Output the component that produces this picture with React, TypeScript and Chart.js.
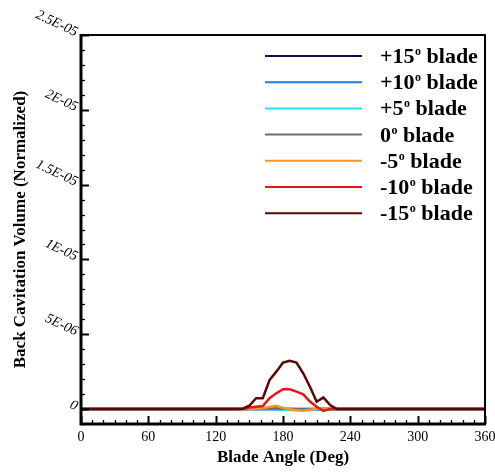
import React, { useEffect, useRef } from "react";
import { Chart, registerables } from "chart.js";

Chart.register(...registerables);

// Blade angle (deg)
const angles = [
  0, 6, 12, 18, 24, 30, 36, 42, 48, 54, 60, 66, 72, 78, 84, 90, 96, 102, 108, 114,
  120, 126, 132, 138, 144, 150, 156, 162, 168, 174, 180, 186, 192, 198, 204, 210,
  216, 222, 228, 234, 240, 246, 252, 258, 264, 270, 276, 282, 288, 294, 300, 306,
  312, 318, 324, 330, 336, 342, 348, 354, 360,
];

// Back cavitation volume, in units of 1E-06
const plus15 = [
  0, 0, 0, 0, 0, 0, 0, 0, 0, 0, 0, 0, 0, 0, 0, 0, 0, 0, 0, 0, 0, 0, 0, 0,
  0, 0, 0, 0, 0, 0, 0, 0, 0, 0, 0, 0, 0, 0, 0,
  0, 0, 0, 0, 0, 0, 0, 0, 0, 0, 0, 0, 0, 0, 0, 0, 0, 0, 0, 0, 0, 0,
];
const plus10 = [
  0, 0, 0, 0, 0, 0, 0, 0, 0, 0, 0, 0, 0, 0, 0, 0, 0, 0, 0, 0, 0, 0, 0, 0,
  0, 0, 0, 0, 0, -0.02, -0.04, -0.05, -0.05, -0.05, -0.04, -0.03, 0, 0, 0,
  0, 0, 0, 0, 0, 0, 0, 0, 0, 0, 0, 0, 0, 0, 0, 0, 0, 0, 0, 0, 0, 0,
];
const plus5 = [
  0, 0, 0, 0, 0, 0, 0, 0, 0, 0, 0, 0, 0, 0, 0, 0, 0, 0, 0, 0, 0, 0, 0, 0,
  0, 0, 0, 0.01, 0.02, -0.02, -0.05, -0.06, -0.06, -0.06, -0.05, -0.04, -0.02, 0, 0,
  0, 0, 0, 0, 0, 0, 0, 0, 0, 0, 0, 0, 0, 0, 0, 0, 0, 0, 0, 0, 0, 0,
];
const zero = [
  0, 0, 0, 0, 0, 0, 0, 0, 0, 0, 0, 0, 0, 0, 0, 0, 0, 0, 0, 0, 0, 0, 0, 0,
  0, 0, 0, 0.02, 0.04, 0.05, 0.03, 0.01, -0.02, -0.03, -0.02, 0, 0, 0, 0,
  0, 0, 0, 0, 0, 0, 0, 0, 0, 0, 0, 0, 0, 0, 0, 0, 0, 0, 0, 0, 0, 0,
];
const minus5 = [
  0, 0, 0, 0, 0, 0, 0, 0, 0, 0, 0, 0, 0, 0, 0, 0, 0, 0, 0, 0, 0, 0, 0, 0,
  0, 0, 0.02, 0.05, 0.15, 0.22, 0.08, -0.02, -0.08, -0.12, -0.05, 0.02, 0.02, 0, 0,
  0, 0, 0, 0, 0, 0, 0, 0, 0, 0, 0, 0, 0, 0, 0, 0, 0, 0, 0, 0, 0, 0,
];
const minus10 = [
  0, 0, 0, 0, 0, 0, 0, 0, 0, 0, 0, 0, 0, 0, 0, 0, 0, 0, 0, 0, 0, 0, 0, 0,
  0, 0.1, 0.15, 0.2, 0.72, 1.05, 1.32, 1.32, 1.16, 0.98, 0.5, 0.15, -0.12, 0, 0,
  0, 0, 0, 0, 0, 0, 0, 0, 0, 0, 0, 0, 0, 0, 0, 0, 0, 0, 0, 0, 0, 0,
];
const minus15 = [
  0, 0, 0, 0, 0, 0, 0, 0, 0, 0, 0, 0, 0, 0, 0, 0, 0, 0, 0, 0, 0, 0, 0, 0,
  0.02, 0.22, 0.72, 0.72, 1.94, 2.5, 3.1, 3.23, 3.1, 2.39, 1.49, 0.49, 0.78, 0.27, 0,
  0, 0, 0, 0, 0, 0, 0, 0, 0, 0, 0, 0, 0, 0, 0, 0, 0, 0, 0, 0, 0, 0,
];

const seriesAngles = ["+15", "+10", "+5", "0", "-5", "-10", "-15"];
const seriesValues = [plus15, plus10, plus5, zero, minus5, minus10, minus15];
const seriesColors = ["#0c0c55", "#1a7fe6", "#1ee6f0", "#6e6e6e", "#ff9424", "#e3161c", "#5c0606"];

const xTickValues = [0, 60, 120, 180, 240, 300, 360];
const xTickLabels = ["0", "60", "120", "180", "240", "300", "360"];
const yTickValues = [0, 5, 10, 15, 20, 25];
const yTickLabels = ["0", "5E-06", "1E-05", "1.5E-05", "2E-05", "2.5E-05"];

const xTitle = "Blade Angle (Deg)";
const yTitle = "Back Cavitation Volume (Normalized)";

const SERIF = '"Liberation Serif", "Times New Roman", serif';

const decorPlugin = {
  id: "decor",
  afterDraw(chart: any) {
    const ctx = chart.ctx as CanvasRenderingContext2D;
    const { left, right, top, bottom } = chart.chartArea;
    const xs = chart.scales.x;
    const ys = chart.scales.y;
    ctx.save();
    ctx.strokeStyle = "#000";
    ctx.fillStyle = "#000";

    // ticks x
    for (let v = xs.min; v <= xs.max; v += 10) {
      const px = Math.round(xs.getPixelForValue(v)) + 0.5;
      const major = v % 60 === 0;
      ctx.lineWidth = major ? 2 : 1.3;
      ctx.beginPath();
      ctx.moveTo(px, bottom);
      ctx.lineTo(px, bottom - (major ? 8 : 4));
      ctx.stroke();
    }
    // ticks y
    for (let v = -1; v <= 25; v += 1) {
      const py = Math.round(ys.getPixelForValue(v)) + 0.5;
      const major = v % 5 === 0;
      ctx.lineWidth = major ? 2 : 1.3;
      ctx.beginPath();
      ctx.moveTo(left, py);
      ctx.lineTo(left + (major ? 8 : 4), py);
      ctx.stroke();
    }

    // frame
    ctx.lineWidth = 2;
    ctx.beginPath();
    ctx.moveTo(left, top);
    ctx.lineTo(right, top);
    ctx.lineTo(right, bottom);
    ctx.stroke();
    ctx.lineWidth = 3;
    ctx.beginPath();
    ctx.moveTo(left, top - 1);
    ctx.lineTo(left, bottom);
    ctx.lineTo(right + 1, bottom);
    ctx.stroke();

    // x tick labels
    ctx.font = `14px ${SERIF}`;
    ctx.textAlign = "center";
    ctx.textBaseline = "middle";
    xTickValues.forEach((v, i) => {
      ctx.fillText(xTickLabels[i], xs.getPixelForValue(v), bottom + 13);
    });

    // y tick labels (rotated, italic)
    ctx.font = `italic 14px ${SERIF}`;
    ctx.textAlign = "right";
    ctx.textBaseline = "middle";
    yTickValues.forEach((v, i) => {
      const py = ys.getPixelForValue(v);
      ctx.save();
      ctx.translate(left - 4, py - 2);
      ctx.rotate((25 * Math.PI) / 180);
      ctx.fillText(yTickLabels[i], 0, 0);
      ctx.restore();
    });

    // titles
    ctx.font = `bold 17px ${SERIF}`;
    ctx.textAlign = "center";
    ctx.textBaseline = "middle";
    ctx.fillText(xTitle, (left + right) / 2, 458);
    ctx.save();
    ctx.translate(21, (top + bottom) / 2);
    ctx.rotate(-Math.PI / 2);
    ctx.fillText(yTitle, 0, 0);
    ctx.restore();

    // legend
    const lx0 = 265, lx1 = 362, tx = 380, ly0 = 56, dy = 26.2;
    chart.data.datasets.forEach((ds: any, i: number) => {
      const y = ly0 + i * dy;
      ctx.strokeStyle = ds.borderColor;
      ctx.lineWidth = 2;
      ctx.beginPath();
      ctx.moveTo(lx0, y);
      ctx.lineTo(lx1, y);
      ctx.stroke();
      ctx.fillStyle = "#000";
      ctx.textAlign = "left";
      ctx.textBaseline = "alphabetic";
      const base = y + 7;
      ctx.font = `bold 22px ${SERIF}`;
      const a = seriesAngles[i];
      ctx.fillText(a, tx, base);
      let w = ctx.measureText(a).width;
      ctx.font = `bold 12px ${SERIF}`;
      ctx.fillText("o", tx + w + 0.5, base - 8);
      w += ctx.measureText("o").width + 0.5;
      ctx.font = `bold 22px ${SERIF}`;
      ctx.fillText(" blade", tx + w, base);
    });
    ctx.restore();
  },
};

export default function App() {
  const ref = useRef<HTMLCanvasElement | null>(null);
  useEffect(() => {
    if (!ref.current) return;
    const n = seriesValues.length;
    const chart = new Chart(ref.current, {
      type: "line",
      data: {
        datasets: seriesValues.map((vals, i) => ({
          label: `${seriesAngles[i]}° blade`,
          data: angles.map((a, k) => ({ x: a, y: vals[k] })),
          borderColor: seriesColors[i],
          backgroundColor: seriesColors[i],
          borderWidth: 2.5,
          pointRadius: 0,
          tension: 0,
          order: n - 1 - i,
        })),
      },
      options: {
        responsive: false,
        animation: false,
        devicePixelRatio: 1,
        layout: { padding: { left: 81, right: 10, top: 35, bottom: 49 } },
        plugins: { legend: { display: false }, tooltip: { enabled: false } },
        scales: {
          x: { type: "linear", min: 0, max: 360, display: false },
          y: { type: "linear", min: -1, max: 25, display: false },
        },
      },
      plugins: [decorPlugin],
    });
    return () => chart.destroy();
  }, []);
  return (
    <div style={{ position: "fixed", left: 0, top: 0, width: 495, height: 473, background: "#fff" }}>
      <canvas ref={ref} width={495} height={473} />
    </div>
  );
}
